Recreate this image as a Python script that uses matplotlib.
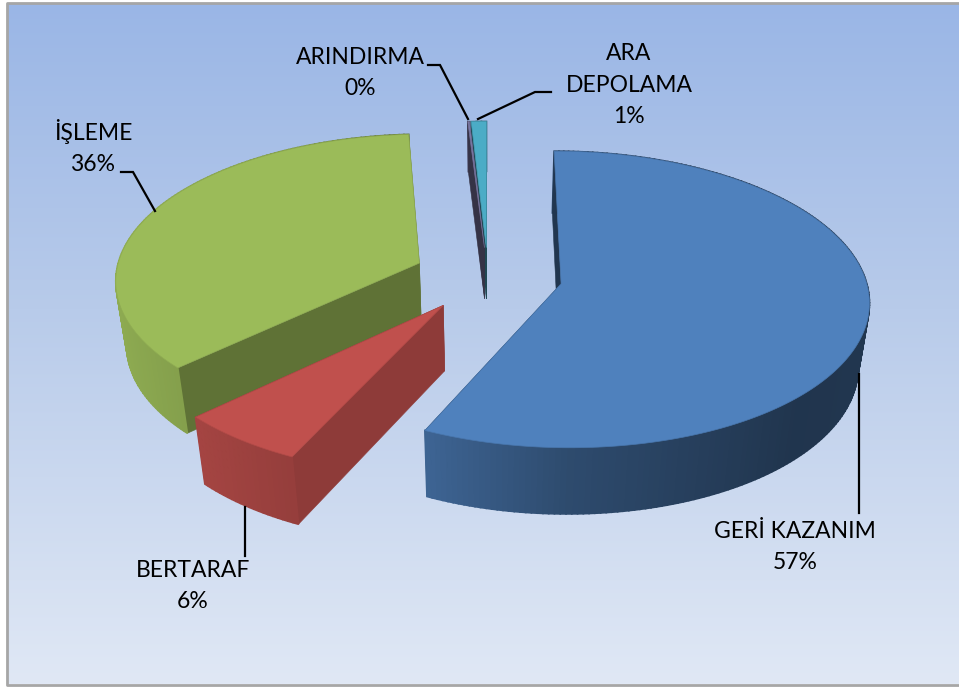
#!/usr/bin/env python3
"""Pie 3D esploso disegnato a mano con poligoni in prospettiva."""
import numpy as np
import matplotlib
matplotlib.use("Agg")
import matplotlib.pyplot as plt
from matplotlib.colors import LinearSegmentedColormap, to_rgb
from matplotlib.patches import Polygon

categories = ["GERİ KAZANIM", "BERTARAF", "İŞLEME", "ARINDIRMA", "ARA\nDEPOLAMA"]
values = [57, 6, 36, 0.1, 0.9]
colors = ["#4f81bd", "#c0504d", "#9bbb59", "#7d7aa6", "#4bacc6"]
# fattore di scurimento delle due facce interne (per fetta)
inner_shade = [0.42, 0.74, 0.61, 0.42, 0.42]
explode = [0.245, 0.245, 0.245, 0.2, 0.2]
slice_depth = [66, 67, 66, 53, 53]
draw_order = [2, 4, 3, 0, 1]

W, H = 959, 687
CX, CY = 488, 276
A, B = 304, 145
KV, KZ = 0.105, 0.03

label_pos = [(795, 547), (193, 586), (93, 147), (360, 73), (629, 85)]
leaders = [
    [(859, 513), (859, 374)],
    [(245, 556), (245, 507)],
    [(121, 172), (133, 172), (155, 211)],
    [(428, 65), (440, 65), (468, 119)],
    [(551, 92), (535, 92), (478, 119)],
]


def project(u, v, z):
    s = 1 / (1 + KV * v + KZ * (z > 0))
    return CX + A * u * s, CY - B * v * s + z * s


def wall_shade(theta):
    return np.interp(np.sin(theta), [-1, -0.7, -0.4, 0, 0.7, 1],
                     [0.92, 0.85, 0.77, 0.58, 0.41, 0.42])


def darker(color, f):
    return tuple(c * f for c in to_rgb(color))


def draw_slice(ax, t0, t1, color, inner, e, depth):
    mid = (t0 + t1) / 2
    ou, ov = e * np.sin(mid), e * np.cos(mid)
    th = np.linspace(t0, t1, max(int(np.degrees(t1 - t0)), 2) + 1)
    ru, rv = ou + np.sin(th), ov + np.cos(th)

    faces = []
    for i in range(len(th) - 1):
        pts = [project(ru[i], rv[i], 0), project(ru[i + 1], rv[i + 1], 0),
               project(ru[i + 1], rv[i + 1], depth), project(ru[i], rv[i], depth)]
        tm = (th[i] + th[i + 1]) / 2
        faces.append(((rv[i] + rv[i + 1]) / 2, pts, darker(color, wall_shade(tm)), 1.2))
    for j in (0, -1):
        pts = [project(ou, ov, 0), project(ru[j], rv[j], 0),
               project(ru[j], rv[j], depth), project(ou, ov, depth)]
        faces.append(((ov + rv[j]) / 2, pts, darker(color, inner), 0.4))
    faces.sort(key=lambda f: -f[0])
    for _, pts, c, lw in faces:
        ax.add_patch(Polygon(pts, closed=True, facecolor=c, edgecolor=c, linewidth=lw))

    top = [project(ou, ov, 0)] + [project(a, b, 0) for a, b in zip(ru, rv)]
    ax.add_patch(Polygon(top, closed=True, facecolor=color, edgecolor=darker(color, 0.92),
                         linewidth=0.5))


def main():
    plt.rcParams["font.family"] = ["Lato", "DejaVu Sans"]
    fig = plt.figure(figsize=(W / 100, H / 100), dpi=100)
    ax = fig.add_axes([0, 0, 1, 1])
    ax.axis("off")

    # sfondo a gradiente verticale e cornice grigia
    cmap = LinearSegmentedColormap.from_list(
        "bg", [(0, "#9ab6e6"), (0.45, "#b8cbea"), (1, "#e0e8f5")])
    grad = np.linspace(0, 1, 256).reshape(-1, 1)
    ax.imshow(grad, cmap=cmap, extent=(7, W, 684, 3), aspect="auto", zorder=0)
    ax.set_xlim(0, W)
    ax.set_ylim(H, 0)
    ax.plot([W, 6.5, 6.5, W], [3, 3, 684.5, 684.5], color="#a6a6a6", linewidth=2, zorder=1)

    angles = np.cumsum([0] + values) / sum(values) * 2 * np.pi
    for i in draw_order:
        draw_slice(ax, angles[i], angles[i + 1], colors[i], inner_shade[i],
                   explode[i], slice_depth[i])

    for line in leaders:
        xs, ys = zip(*line)
        ax.plot(xs, ys, color="black", linewidth=1.6, solid_joinstyle="miter", zorder=5)
    for name, val, (x, y) in zip(categories, values, label_pos):
        ax.text(x, y, f"{name}\n{val:.0f}%", ha="center", va="center", fontsize=16.5,
                linespacing=1.6, color="black", zorder=6)

    fig.savefig("out.png", dpi=100)
    plt.close(fig)


if __name__ == "__main__":
    main()
